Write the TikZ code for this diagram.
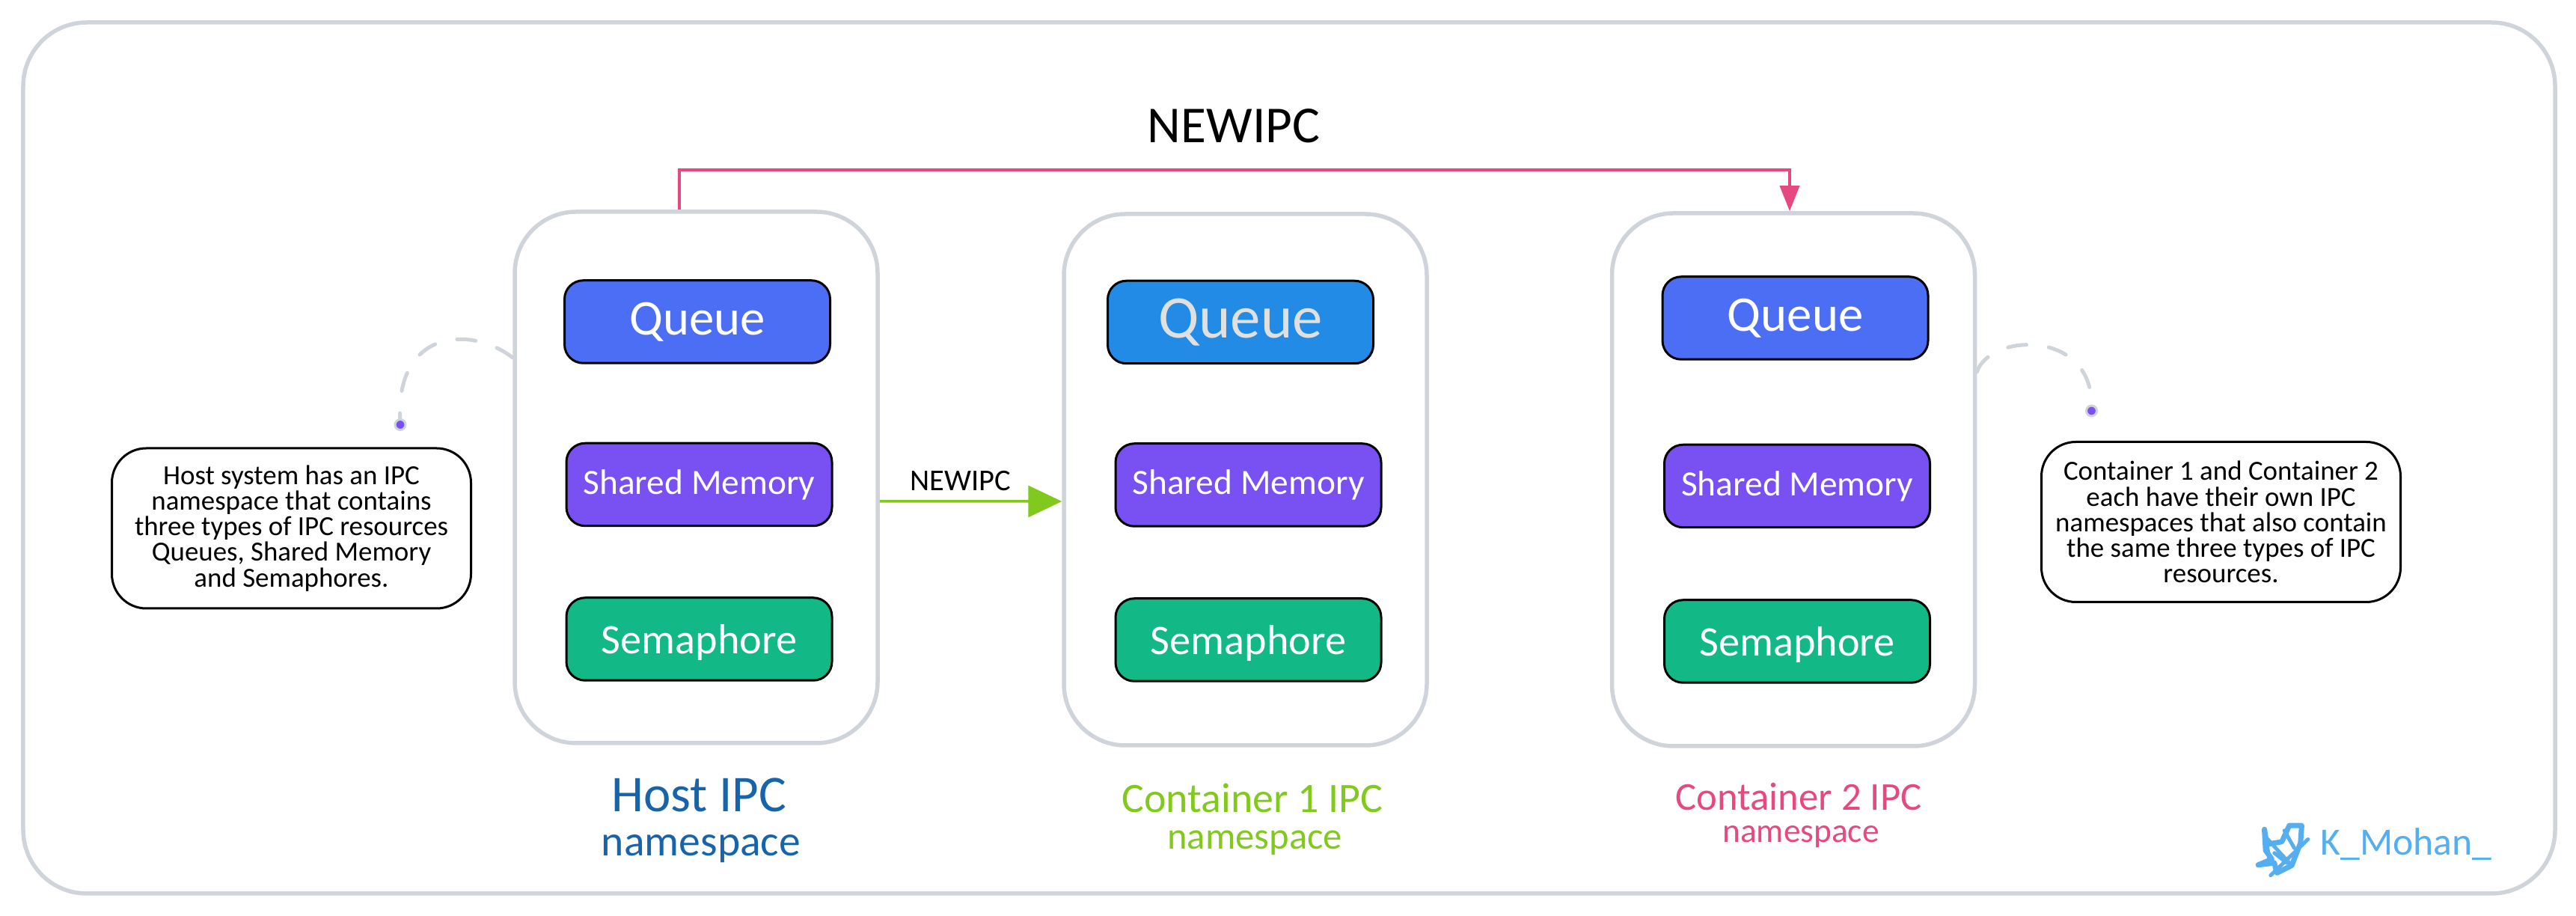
\documentclass[tikz,border=0pt]{standalone}
\usepackage{fontspec}
\setmainfont{Carlito}
\usepackage{tikz}
\usetikzlibrary{arrows.meta}
\usetikzlibrary{shapes.geometric}
\usetikzlibrary{positioning}
\definecolor{frameGrey}{HTML}{CED4DA}
\definecolor{queueBlue}{HTML}{4C6EF5}
\definecolor{queueSky}{HTML}{228BE6}
\definecolor{memViolet}{HTML}{7950F2}
\definecolor{semGreen}{HTML}{12B886}
\definecolor{hostBlue}{HTML}{1864AB}
\definecolor{contGreen}{HTML}{82C91E}
\definecolor{contPink}{HTML}{E64980}
\definecolor{birdBlue}{HTML}{55AEF0}
\tikzstyle{frame} = [rectangle, rounded corners=0.85cm, minimum width=33.84cm, minimum height=11.64cm, draw=frameGrey, line width=0.055cm]
\tikzstyle{nsbox} = [rectangle, rounded corners=0.82cm, minimum width=4.85cm, minimum height=7.1cm, draw=frameGrey, line width=0.055cm]
\tikzstyle{resbox} = [rectangle, rounded corners=0.25cm, minimum width=3.55cm, minimum height=1.105cm, text centered, draw=black, line width=0.03cm, text=white, inner sep=0cm]
\tikzstyle{queue} = [resbox, fill=queueBlue, font=\fontsize{19}{22}\selectfont]
\tikzstyle{shm} = [resbox, fill=memViolet, font=\fontsize{13.5}{16}\selectfont]
\tikzstyle{sem} = [resbox, fill=semGreen, text depth=0cm, font=\fontsize{16}{18}\selectfont]
\tikzstyle{note} = [rectangle, rounded corners=0.46cm, minimum width=4.8cm, minimum height=2.14cm, align=center, draw=black, line width=0.03cm, inner sep=0cm, font=\fontsize{10.5}{9.7}\selectfont]
\tikzstyle{dotmark} = [circle, minimum size=0.14cm, inner sep=0cm, fill=memViolet, draw=frameGrey, line width=0.03cm]
\tikzstyle{callout} = [draw=frameGrey, line width=0.05cm, line cap=round, dash pattern=on 0.25cm off 0.3cm]
\tikzstyle{pinkarrow} = [draw=contPink, line width=0.035cm, ->, >={Triangle[length=0.34cm,width=0.26cm]}]
\tikzstyle{greenarrow} = [draw=contGreen, line width=0.035cm, ->, >={Triangle[length=0.45cm,width=0.42cm]}]
\tikzstyle{nslabel} = [inner sep=0cm, font=\fontsize{19.6}{22}\selectfont]
\begin{document}
\begin{tikzpicture}[node distance = 1cm]
	\useasboundingbox (0,0) rectangle (34.43,12.24);
	\node (Frame) [frame] at (17.23,6.12) {};
	\node (HostNS) [nsbox] at (9.305,5.86) {};
	\node (ContA) [nsbox, right of=HostNS, node distance=7.34cm, yshift=-0.03cm] {};
	\node (ContB) [nsbox, right of=ContA, node distance=7.325cm, minimum height=7.12cm] {};
	% host resources
	\node (HostShm) [shm, below of=HostNS, node distance=0.095cm, xshift=0.04cm] {Shared Memory};
	\node (HostQueue) [queue, above of=HostShm, node distance=2.175cm, xshift=-0.025cm] {Queue};
	\node (HostSem) [sem, below of=HostShm, node distance=2.065cm] {Semaphore};
	% container 1
	\node (AShm) [shm, below of=ContA, node distance=0.07cm, xshift=0.04cm] {Shared Memory};
	\node (AQueue) [queue, above of=AShm, node distance=2.175cm, xshift=-0.105cm, fill=queueSky, text=black!12] {\fontsize{23}{25}\selectfont Queue};
	\node (ASem) [sem, below of=AShm, node distance=2.07cm] {Semaphore};
	% container 2
	\node (BShm) [shm, below of=ContB, node distance=0.085cm, xshift=0.05cm] {Shared Memory};
	\node (BQueue) [queue, above of=BShm, node distance=2.245cm, xshift=-0.025cm] {Queue};
	\node (BSem) [sem, below of=BShm, node distance=2.075cm] {Semaphore};
	% labels
	\node (HostLabel) [nslabel, text=hostBlue, below of=HostNS, node distance=4.24cm, xshift=0.035cm] {Host IPC};
	\node (HostLabelB) [nslabel, text=hostBlue, below of=HostLabel, node distance=0.72cm, xshift=0.03cm, font=\fontsize{16.4}{20}\selectfont] {namespace};
	\node (ALabel) [nslabel, text=contGreen, below of=ContA, node distance=4.25cm, xshift=0.095cm, font=\fontsize{15.9}{20}\selectfont] {Container 1 IPC};
	\node (ALabelB) [nslabel, text=contGreen, below of=ALabel, node distance=0.6cm, xshift=0.03cm, font=\fontsize{14.4}{18}\selectfont] {namespace};
	\node (BLabel) [nslabel, text=contPink, below of=ContB, node distance=4.24cm, xshift=0.07cm, font=\fontsize{15}{18}\selectfont] {Container 2 IPC};
	\node (BLabelB) [nslabel, text=contPink, below of=BLabel, node distance=0.53cm, xshift=0.03cm, font=\fontsize{12.9}{16}\selectfont] {namespace};
	\node (TopLabel) [inner sep=0cm, font=\fontsize{19.7}{22}\selectfont] at (16.49,10.56) {NEWIPC};
	% notes
	\node (HostNote) [note, left of=HostNS, node distance=5.41cm, yshift=-0.68cm] {Host system has an IPC\\namespace that contains\\three types of IPC resources\\Queues, Shared Memory\\and Semaphores.};
	\node (BNote) [note, right of=ContB, node distance=5.715cm, yshift=-0.565cm] {Container 1 and Container 2\\each have their own IPC\\namespaces that also contain\\the same three types of IPC\\resources.};
	\node (HostDot) [dotmark] at (5.35,6.565) {};
	\node (BDot) [dotmark] at (27.955,6.75) {};
	% connectors
	\draw [callout] ([yshift=1.6cm]HostNS.west) .. controls (6.3,7.89) and (5.3,7.84) .. (HostDot);
	\draw [callout] ([yshift=1.44cm]ContB.east) .. controls (26.6,7.79) and (27.95,7.84) .. (BDot);
	\draw [pinkarrow] ([xshift=-0.225cm]HostNS.north) -- ++(0,0.53) -| ([xshift=-0.05cm]ContB.north);
	\draw [greenarrow] ([yshift=-0.32cm]HostNS.east) -- node (MidLabel) [above, xshift=-0.14cm, yshift=0.12cm, inner sep=0cm, font=\fontsize{11.5}{14}\selectfont] {NEWIPC} ([yshift=-0.29cm]ContA.west);
	% bird
	\begin{scope}[shift={(29.5,1.74)}, x=0.00333cm, y=-0.00333cm]
		\draw [birdBlue, line width=0.07cm, line cap=round, line join=round] (230,175) -- (240,235) -- (300,225) -- (330,160) -- (380,160) -- (375,230) -- (340,320) -- (280,350) -- (270,310) -- (205,318) -- (260,295) -- (235,260) -- cycle;
		\draw [birdBlue, line width=0.05cm, line cap=round] (230,200) -- (330,310) (310,180) -- (350,250) (255,360) -- (405,215) (270,270) -- (320,310) (240,230) -- (250,300);
	\end{scope}
	\node (Handle) [inner sep=0cm, text=birdBlue, font=\fontsize{14.7}{17}\selectfont] at (32.16,0.96) {K\_Mohan\_};
\end{tikzpicture}
\end{document}
